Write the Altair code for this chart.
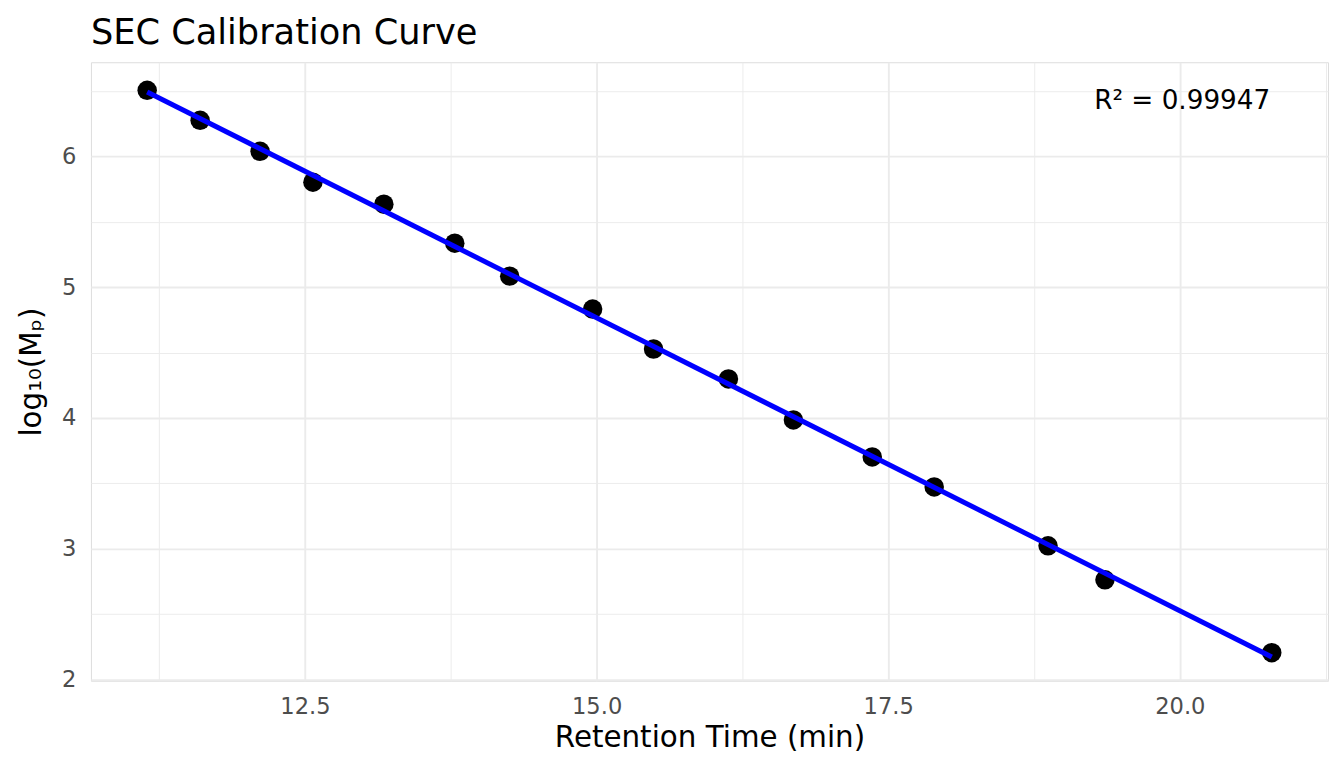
import altair as alt
import pandas as pd

# Calibration standards
retention_time = [11.147, 11.601, 12.115, 12.568, 13.176, 13.784, 14.255, 14.966,
                  15.488, 16.130, 16.687, 17.363, 17.894, 18.870, 19.358, 20.788]
log_mp = [6.504, 6.275, 6.038, 5.802, 5.634, 5.336, 5.084, 4.832,
          4.527, 4.298, 3.985, 3.702, 3.473, 3.023, 2.763, 2.206]

annot_text = ["R\u00b2 = 0.99947"]
annot_x = [20.02]
annot_y = [6.42]

x_grid = [11.25, 12.5, 13.75, 15.0, 16.25, 17.5, 18.75, 20.0, 21.25]
y_grid = [2.0, 2.5, 3.0, 3.5, 4.0, 4.5, 5.0, 5.5, 6.0, 6.5]

df = pd.DataFrame({"rt": retention_time, "logM": log_mp})
ann = pd.DataFrame({"rt": annot_x, "logM": annot_y, "label": annot_text})


def expand(vals, f=0.05):
    lo, hi = min(vals), max(vals)
    r = hi - lo
    return [lo - f * r, hi + f * r]


xdom = expand(retention_time)
ydom = expand(log_mp)

GRID = "#ebebeb"

x_axis = alt.Axis(
    values=x_grid,
    labelExpr="datum.value % 2.5 == 0 ? format(datum.value, '.1f') : ''",
    grid=True,
    gridColor=GRID,
    gridWidth={"condition": {"test": "datum.value % 2.5 == 0", "value": 1.9}, "value": 0.95},
    ticks=False,
    tickSize=0,
    domain=False,
    labelFont="DejaVu Sans",
    labelFontSize=22.6,
    labelColor="#4d4d4d",
    labelPadding=15,
    titleFont="DejaVu Sans",
    titleFontSize=29.4,
    titleFontWeight="normal",
    titleColor="#000000",
    titlePadding=5,
)

y_axis = alt.Axis(
    values=y_grid,
    labelExpr="datum.value % 1 == 0 ? format(datum.value, 'd') : ''",
    grid=True,
    gridColor=GRID,
    gridWidth={"condition": {"test": "datum.value % 1 == 0", "value": 1.9}, "value": 0.95},
    ticks=False,
    tickSize=0,
    domain=False,
    labelFont="DejaVu Sans",
    labelFontSize=22.6,
    labelColor="#4d4d4d",
    labelPadding=15,
    titleFont="DejaVu Sans",
    titleFontSize=29.4,
    titleFontWeight="normal",
    titleColor="#000000",
    titlePadding=15,
)

x_enc = alt.X("rt:Q", title="Retention Time (min)",
              scale=alt.Scale(domain=xdom, nice=False, zero=False), axis=x_axis)
y_enc = alt.Y("logM:Q", title="log\u2081\u2080(M\u209a)",
              scale=alt.Scale(domain=ydom, nice=False, zero=False), axis=y_axis)

points = alt.Chart(df).mark_circle(size=380, color="#000000", opacity=1).encode(
    x=x_enc, y=y_enc
)

fit = alt.Chart(df).transform_regression("rt", "logM").mark_line(
    color="#0000ff", strokeWidth=5
).encode(x="rt:Q", y="logM:Q")

label = alt.Chart(ann).mark_text(
    font="DejaVu Sans", fontSize=26.3, color="#000000", align="center", baseline="middle"
).encode(x="rt:Q", y="logM:Q", text="label:N")

chart = alt.layer(points, fit, label).properties(
    width=1238,
    height=619,
    autosize=alt.AutoSizeParams(type="none"),
    padding={"left": 83, "top": 54, "right": 8, "bottom": 79},
    title=alt.TitleParams(
        "SEC Calibration Curve",
        anchor="start",
        frame="group",
        font="DejaVu Sans",
        fontSize=35.2,
        fontWeight="normal",
        color="#000000",
        offset=11,
    ),
).configure_view(stroke=None).configure(background="#ffffff")

chart.save("out.html", embed_options={"renderer": "svg", "actions": False})
